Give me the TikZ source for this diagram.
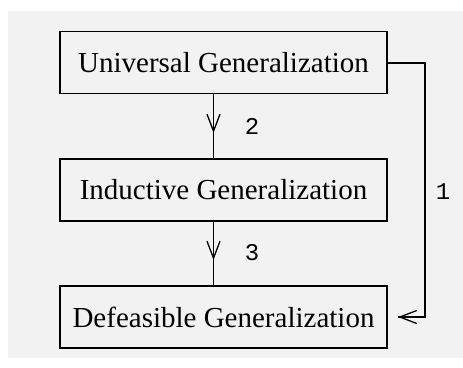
\documentclass[tikz,border=0pt]{standalone}
\usepackage{fontspec}
\setmainfont{Liberation Serif}
\newfontfamily\numfont{Liberation Mono}
\usetikzlibrary{arrows.meta}
\begin{document}
\begin{tikzpicture}[x=1pt,y=1pt,
  box/.style={draw, line width=1.3pt, minimum width=327pt, minimum height=62pt, inner sep=0pt, font=\fontsize{29}{32}\selectfont},
  conn/.style={line width=1.3pt},
  num/.style={font=\numfont\fontsize{24}{26}\selectfont, inner sep=0pt},
  tip/.style={line width=1.3pt, -{Straight Barb[length=17pt,width=13pt,line width=1.3pt]}}]
\useasboundingbox (0,0) rectangle (463,-367);
\fill[white] (0,0) rectangle (463,-367);
\fill[black!5] (8,-11) rectangle (463,-358);
\node[box] (u) at (223.5,-62.5) {Universal Generalization};
\node[box] (i) at (223.5,-190) {Inductive Generalization};
\node[box] (d) at (223.5,-317) {Defeasible Generalization};
\coordinate (m1) at (213.5,-133);
\coordinate (m2) at (213.5,-260);
\draw[conn] (u.south -| m1) -- (i.north -| m1);
\draw[tip] (u.south -| m1) -- (m1);
\draw[conn] (i.south -| m2) -- (d.north -| m2);
\draw[tip] (i.south -| m2) -- (m2);
\coordinate (r1) at (425,-63);
\coordinate (r2) at (425,-317);
\coordinate (e) at (398,-317);
\draw[conn] (u.east |- r1) -- (r1) -- (r2) -- (e);
\draw[tip] (r2) -- (e);
\node[num] (n2) at (252,-126) {2};
\node[num] (n3) at (252,-253) {3};
\node[num] (n1) at (443,-192) {1};
\end{tikzpicture}
\end{document}
